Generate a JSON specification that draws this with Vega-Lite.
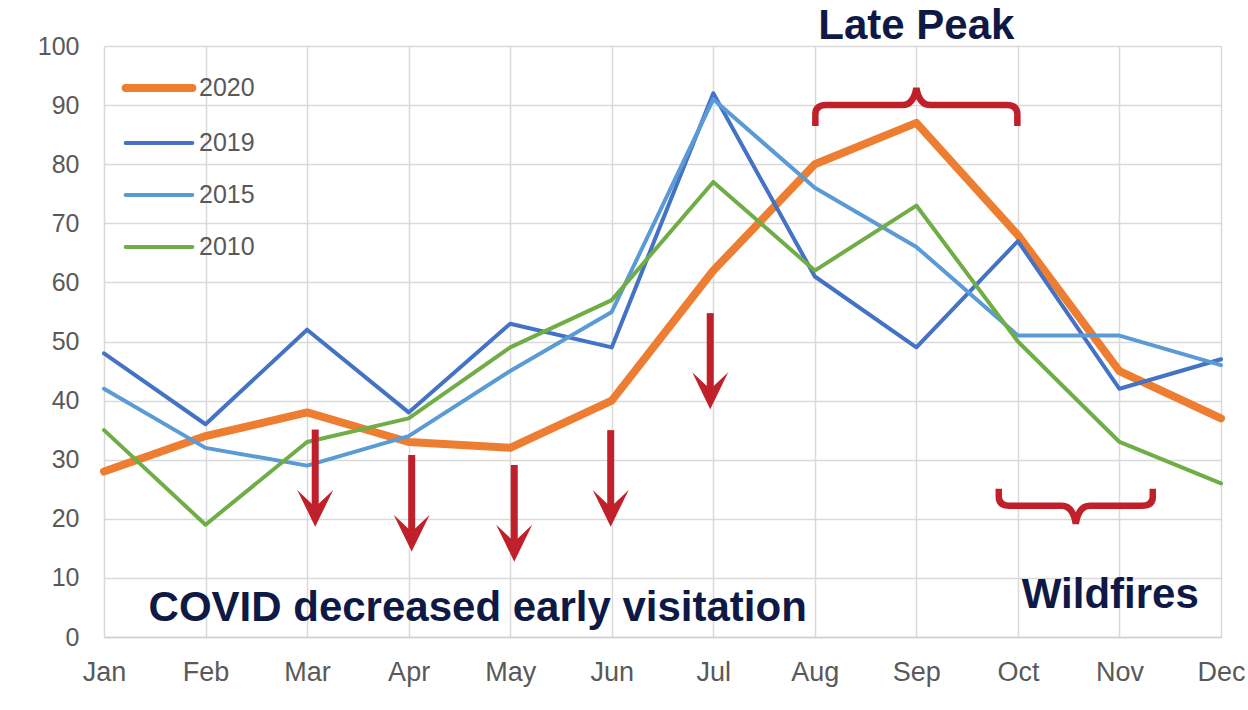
{
  "$schema": "https://vega.github.io/schema/vega-lite/v6.json",
  "width": 1117,
  "height": 591,
  "autosize": {"type": "none"},
  "padding": {"left": 104, "top": 46, "right": 27, "bottom": 73},
  "background": "white",
  "config": {"view": {"stroke": null}, "font": "Liberation Sans"},
  "datasets": {
    "series": [
      {"month": "Jan", "m": 1, "year": "2020", "value": 28},
      {"month": "Feb", "m": 2, "year": "2020", "value": 34},
      {"month": "Mar", "m": 3, "year": "2020", "value": 38},
      {"month": "Apr", "m": 4, "year": "2020", "value": 33},
      {"month": "May", "m": 5, "year": "2020", "value": 32},
      {"month": "Jun", "m": 6, "year": "2020", "value": 40},
      {"month": "Jul", "m": 7, "year": "2020", "value": 62},
      {"month": "Aug", "m": 8, "year": "2020", "value": 80},
      {"month": "Sep", "m": 9, "year": "2020", "value": 87},
      {"month": "Oct", "m": 10, "year": "2020", "value": 68},
      {"month": "Nov", "m": 11, "year": "2020", "value": 45},
      {"month": "Dec", "m": 12, "year": "2020", "value": 37},
      {"month": "Jan", "m": 1, "year": "2019", "value": 48},
      {"month": "Feb", "m": 2, "year": "2019", "value": 36},
      {"month": "Mar", "m": 3, "year": "2019", "value": 52},
      {"month": "Apr", "m": 4, "year": "2019", "value": 38},
      {"month": "May", "m": 5, "year": "2019", "value": 53},
      {"month": "Jun", "m": 6, "year": "2019", "value": 49},
      {"month": "Jul", "m": 7, "year": "2019", "value": 92},
      {"month": "Aug", "m": 8, "year": "2019", "value": 61},
      {"month": "Sep", "m": 9, "year": "2019", "value": 49},
      {"month": "Oct", "m": 10, "year": "2019", "value": 67},
      {"month": "Nov", "m": 11, "year": "2019", "value": 42},
      {"month": "Dec", "m": 12, "year": "2019", "value": 47},
      {"month": "Jan", "m": 1, "year": "2015", "value": 42},
      {"month": "Feb", "m": 2, "year": "2015", "value": 32},
      {"month": "Mar", "m": 3, "year": "2015", "value": 29},
      {"month": "Apr", "m": 4, "year": "2015", "value": 34},
      {"month": "May", "m": 5, "year": "2015", "value": 45},
      {"month": "Jun", "m": 6, "year": "2015", "value": 55},
      {"month": "Jul", "m": 7, "year": "2015", "value": 91},
      {"month": "Aug", "m": 8, "year": "2015", "value": 76},
      {"month": "Sep", "m": 9, "year": "2015", "value": 66},
      {"month": "Oct", "m": 10, "year": "2015", "value": 51},
      {"month": "Nov", "m": 11, "year": "2015", "value": 51},
      {"month": "Dec", "m": 12, "year": "2015", "value": 46},
      {"month": "Jan", "m": 1, "year": "2010", "value": 35},
      {"month": "Feb", "m": 2, "year": "2010", "value": 19},
      {"month": "Mar", "m": 3, "year": "2010", "value": 33},
      {"month": "Apr", "m": 4, "year": "2010", "value": 37},
      {"month": "May", "m": 5, "year": "2010", "value": 49},
      {"month": "Jun", "m": 6, "year": "2010", "value": 57},
      {"month": "Jul", "m": 7, "year": "2010", "value": 77},
      {"month": "Aug", "m": 8, "year": "2010", "value": 62},
      {"month": "Sep", "m": 9, "year": "2010", "value": 73},
      {"month": "Oct", "m": 10, "year": "2010", "value": 50},
      {"month": "Nov", "m": 11, "year": "2010", "value": 33},
      {"month": "Dec", "m": 12, "year": "2010", "value": 26}
    ],
    "arrows": [
      {"m": 3.08, "value": 22.0, "top": 35.1},
      {"m": 4.03, "value": 17.8, "top": 30.8},
      {"m": 5.04, "value": 16.1, "top": 29.1},
      {"m": 5.99, "value": 22.0, "top": 35.0},
      {"m": 6.97, "value": 41.9, "top": 54.8}
    ],
    "braceUp": [{"m": 9, "value": 90}],
    "braceDown": [{"m": 10.57, "value": 22.2}],
    "labels": [
      {"m": 9, "value": 101.2, "text": "Late Peak"},
      {"m": 4.68, "value": 2.76, "text": "COVID decreased early visitation"},
      {"m": 10.91, "value": 4.96, "text": "Wildfires"}
    ]
  },
  "layer": [
    {
      "data": {"name": "series"},
      "mark": {"type": "line", "strokeCap": "round", "strokeJoin": "round"},
      "encoding": {
        "x": {
          "field": "m", "type": "quantitative",
          "scale": {"domain": [1, 12], "nice": false, "zero": false},
          "axis": {
            "title": null, "values": [1, 2, 3, 4, 5, 6, 7, 8, 9, 10, 11, 12],
            "labelExpr": "['Jan','Feb','Mar','Apr','May','Jun','Jul','Aug','Sep','Oct','Nov','Dec'][datum.value - 1]",
            "grid": true, "gridColor": "#d9d9d9", "gridWidth": 1.5,
            "domainColor": "#d0d0d0", "domainWidth": 1.5, "ticks": false,
            "labelFontSize": 27, "labelColor": "#595959", "labelPadding": 22,
            "labelFlush": false, "labelOverlap": false
          }
        },
        "y": {
          "field": "value", "type": "quantitative",
          "scale": {"domain": [0, 100], "nice": false},
          "axis": {
            "title": null, "values": [0, 10, 20, 30, 40, 50, 60, 70, 80, 90, 100],
            "grid": true, "gridColor": "#d9d9d9", "gridWidth": 1.5,
            "domain": false, "ticks": false,
            "labelFontSize": 25, "labelColor": "#595959", "labelPadding": 25
          }
        },
        "color": {
          "field": "year", "type": "nominal",
          "scale": {"domain": ["2020", "2019", "2015", "2010"], "range": ["#ED7D31", "#4472C4", "#5B9BD5", "#70AD47"]},
          "legend": {
            "title": null, "orient": "none", "legendX": 28, "legendY": 15,
            "symbolType": "M-1.45,0L1.45,0", "symbolSize": 2116,
            "labelFontSize": 25, "labelColor": "#595959", "labelOffset": 13,
            "rowPadding": 14, "padding": 0,
            "encode": {"symbols": {"update": {"strokeCap": {"value": "round"}}}}
          }
        },
        "strokeWidth": {
          "field": "year", "type": "nominal",
          "scale": {"type": "ordinal", "domain": ["2020", "2019", "2015", "2010"], "range": [8, 4, 4, 4]},
          "legend": {
            "title": null, "orient": "none", "legendX": 28, "legendY": 15,
            "symbolType": "M-1.45,0L1.45,0", "symbolSize": 2116,
            "labelFontSize": 25, "labelColor": "#595959", "labelOffset": 13,
            "rowPadding": 14, "padding": 0,
            "encode": {"symbols": {"update": {"strokeCap": {"value": "round"}}}}
          }
        }
      }
    },
    {
      "data": {"name": "arrows"},
      "mark": {"type": "rule", "color": "#C0202A", "strokeWidth": 7},
      "encoding": {
        "x": {"field": "m", "type": "quantitative"},
        "y": {"field": "value", "type": "quantitative"},
        "y2": {"field": "top"}
      }
    },
    {
      "data": {"name": "arrows"},
      "mark": {"type": "point", "shape": "M0,1.1L-1,-0.95L0,0L1,-0.95Z", "size": 1296, "filled": true, "color": "#C0202A", "opacity": 1, "strokeWidth": 0},
      "encoding": {
        "x": {"field": "m", "type": "quantitative"},
        "y": {"field": "value", "type": "quantitative"}
      }
    },
    {
      "data": {"name": "braceUp"},
      "mark": {"type": "point", "shape": "M-1,0.208L-1,0.089Q-1,0 -0.891,0L-0.139,0Q-0.03,0 0,-0.168Q0.03,0 0.139,0L0.891,0Q1,0 1,0.089L1,0.208", "size": 40804, "filled": false, "stroke": "#C0202A", "strokeWidth": 6.5, "opacity": 1},
      "encoding": {
        "x": {"field": "m", "type": "quantitative"},
        "y": {"field": "value", "type": "quantitative"}
      }
    },
    {
      "data": {"name": "braceDown"},
      "mark": {"type": "point", "shape": "M-1,-0.221L-1,-0.117Q-1,0 -0.857,0L-0.182,0Q-0.039,0 0,0.234Q0.039,0 0.182,0L0.857,0Q1,0 1,-0.117L1,-0.221", "size": 23716, "filled": false, "stroke": "#C0202A", "strokeWidth": 6.5, "opacity": 1},
      "encoding": {
        "x": {"field": "m", "type": "quantitative"},
        "y": {"field": "value", "type": "quantitative"}
      }
    },
    {
      "data": {"name": "labels"},
      "mark": {"type": "text", "font": "Liberation Sans", "fontWeight": "bold", "fontSize": 42, "color": "#0E1A45", "align": "center", "baseline": "alphabetic"},
      "encoding": {
        "x": {"field": "m", "type": "quantitative"},
        "y": {"field": "value", "type": "quantitative"},
        "text": {"field": "text"}
      }
    }
  ]
}
